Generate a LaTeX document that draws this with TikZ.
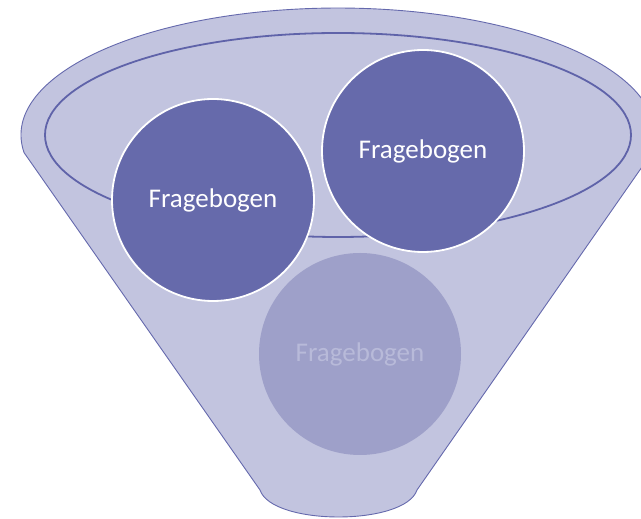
\documentclass[tikz,border=0pt]{standalone}
\usepackage{fontspec}
\setmainfont{Carlito}
\definecolor{funnelfill}{HTML}{C2C4DF}
\definecolor{funneledge}{HTML}{6569AD}
\definecolor{rimedge}{HTML}{5F63A9}
\definecolor{darkball}{HTML}{666AAB}
\definecolor{paleball}{HTML}{9EA0C9}
\definecolor{paletext}{HTML}{B8BAD9}
\begin{document}
\begin{tikzpicture}[x=1pt,y=1pt,
    ball/.style={circle, minimum size=202pt, inner sep=0pt, font=\fontsize{27}{30}\selectfont},
    full/.style={ball, fill=darkball, draw=white, line width=1.8pt, text=white},
    faded/.style={ball, fill=paleball, text=paletext}]

    \useasboundingbox (0,0) rectangle (641,519);

    % Funnel body
    \draw[fill=funnelfill, draw=funneledge, line width=0.9pt]
        (24.1,366.3) arc[start angle=188, end angle=-8, x radius=317, y radius=127]
        -- (417,29) .. controls (405,-7) and (272,-7) .. (260,29) -- cycle;

    % Inner rim
    \draw[rimedge, line width=1.8pt] (338,384) ellipse[x radius=293, y radius=102];

    % Balls
    \node[faded] (q3) at (360,165) {Fragebogen};
    \node[full] (q1) at (213,319) {Fragebogen};
    \node[full] (q2) at (423,368) {Fragebogen};

\end{tikzpicture}
\end{document}
